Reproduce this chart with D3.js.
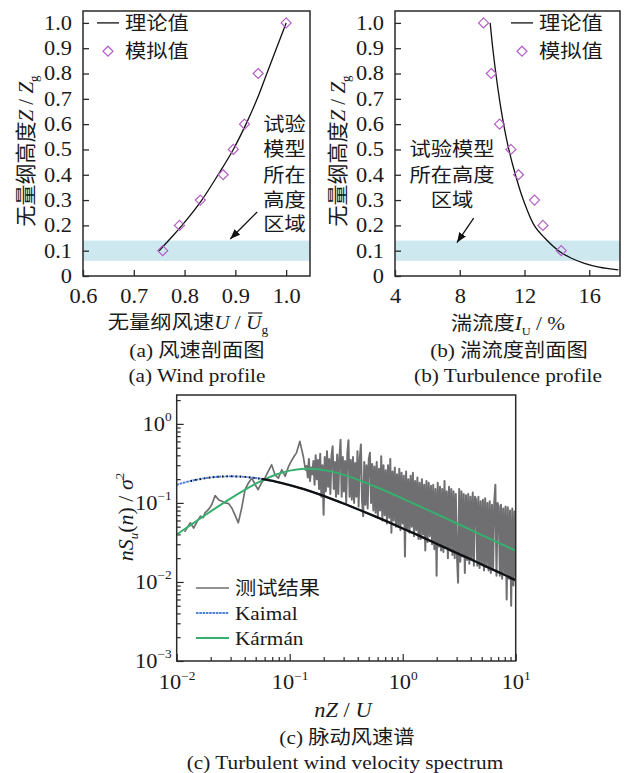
<!DOCTYPE html>
<html><head><meta charset="utf-8">
<script src="https://cdn.jsdelivr.net/npm/d3@7/dist/d3.min.js"></script>
<style>
html,body{margin:0;padding:0;background:#fff;}
svg text{font-family:"Liberation Serif","Noto Sans CJK SC",serif;fill:#1a1a1a;}
</style></head><body>
<svg id="chart" width="624" height="773" xmlns="http://www.w3.org/2000/svg"></svg>
<script>
// ================= DATA =================
const profileYTicks = [0,0.1,0.2,0.3,0.4,0.5,0.6,0.7,0.8,0.9,1.0];
const profileYLabels = ["0","0.1","0.2","0.3","0.4","0.5","0.6","0.7","0.8","0.9","1.0"];
const windXTicks = [0.6,0.7,0.8,0.9,1.0];
const windXLabels = ["0.6","0.7","0.8","0.9","1.0"];
const turbXTicks = [4,8,12,16];
const turbXLabels = ["4","8","12","16"];
const modelBand = [0.06,0.14];

// (a) wind profile
const windTheoryZ = [0.1,0.15,0.2,0.3,0.4,0.5,0.6,0.7,0.8,0.9,1.0];
const windTheoryU = [0.750,0.773,0.795,0.834,0.866,0.896,0.921,0.943,0.962,0.981,1.000];
const windSimZ = [0.1,0.2,0.3,0.4,0.5,0.6,0.8,1.0];
const windSimU = [0.757,0.790,0.831,0.876,0.896,0.918,0.945,1.000];

// (b) turbulence profile
const turbTheoryZ = [1.0,0.9,0.8,0.7,0.6,0.5,0.4,0.3,0.2,0.15,0.1,0.07,0.05,0.035,0.024];
const turbTheoryI = [9.88,10.04,10.23,10.45,10.71,11.03,11.44,11.93,12.60,13.25,14.1,14.9,15.7,16.6,17.8];
const turbSimZ = [0.1,0.2,0.3,0.4,0.5,0.6,0.8,1.0];
const turbSimI = [14.27,13.14,12.62,11.63,11.16,10.46,9.95,9.47];

// (c) spectrum
const specFreq = [0.01,0.01334,0.01778,0.02371,0.03162,0.04217,0.05623,0.07499,0.1,0.1334,0.1778,0.2371,0.3162,0.4217,0.5623,0.7499,1,1.334,1.778,2.371,3.162,4.217,5.623,7.499,10];
const kaimalVals = [0.1695,0.1898,0.2052,0.2147,0.2168,0.2123,0.2013,0.1863,0.1681,0.1491,0.1300,0.1120,0.0955,0.0808,0.0680,0.0570,0.0475,0.0396,0.0328,0.0272,0.0225,0.0187,0.0154,0.0128,0.0105];
const karmanVals = [0.0398,0.0528,0.0698,0.0918,0.1195,0.1528,0.1901,0.2269,0.2561,0.2704,0.2671,0.2489,0.2217,0.1918,0.1626,0.1364,0.1136,0.0942,0.0780,0.0645,0.0533,0.0440,0.0363,0.0300,0.0248];

// measured spectrum, low-frequency part (frequency, value)
const measLowFreq = [0.01175,0.01318,0.01413,0.01514,0.01622,0.01718,0.01778,0.01905,0.02042,0.02188,0.02344,0.02512,0.02692,0.02884,0.03090,0.03311,0.03508,0.03758,0.04027,0.04315,0.04624,0.04955,0.05248,0.05623,0.06026,0.06457,0.06918,0.07413,0.07943,0.08511,0.09120,0.09772,0.1047,0.1096,0.1148,0.1230,0.1318,0.1380];
const measLowVals = [0.043,0.056,0.048,0.058,0.068,0.065,0.075,0.082,0.095,0.124,0.110,0.105,0.100,0.098,0.085,0.068,0.056,0.086,0.147,0.179,0.206,0.170,0.147,0.179,0.206,0.250,0.304,0.227,0.206,0.263,0.217,0.290,0.350,0.390,0.430,0.600,0.390,0.260];
// measured spectrum, dense part: samples every 0.01 decade from 10^-0.85
const denseStartExp = -0.85, denseStepExp = 0.01;
const measDenseVals = [
0.30,0.21,0.36,0.19,0.28,0.23,0.34,0.17,0.40,0.20,
0.35,0.15,0.42,0.12,0.30,0.071,0.38,0.14,0.45,0.16,
0.36,0.13,0.40,0.52,0.15,0.33,0.12,0.41,0.13,0.37,
0.63,0.12,0.38,0.14,0.34,0.10,0.42,0.62,0.12,0.35,
0.11,0.38,0.10,0.32,0.12,0.45,0.09,0.36,0.55,0.11,
0.068,0.33,0.095,0.30,0.085,0.36,0.43,0.10,0.31,0.08,
0.29,0.075,0.33,0.065,0.27,0.08,0.39,0.06,0.30,0.07,
0.26,0.055,0.30,0.065,0.36,0.042,0.25,0.06,0.28,0.05,
0.23,0.05,0.27,0.045,0.24,0.055,0.22,0.021,0.25,0.045,
0.20,0.042,0.22,0.05,0.24,0.038,0.19,0.045,0.21,0.035,
0.18,0.035,0.20,0.04,0.17,0.025,0.19,0.032,0.18,0.038,
0.165,0.03,0.17,0.026,0.15,0.012,0.18,0.028,0.16,0.025,
0.15,0.024,0.19,0.027,0.14,0.02,0.16,0.025,0.15,0.022,
0.14,0.02,0.13,0.022,0.0098,0.15,0.018,0.14,0.021,0.13,
0.013,0.125,0.019,0.13,0.017,0.12,0.02,0.135,0.016,0.12,
0.11,0.016,0.12,0.015,0.105,0.017,0.11,0.014,0.115,0.016,
0.10,0.014,0.105,0.013,0.095,0.015,0.10,0.17,0.012,0.10,
0.09,0.012,0.095,0.011,0.085,0.013,0.09,0.006,0.088,0.011,
0.08,0.005,0.085,0.009,0.078,0.011];

const specMajorX = [0.01,0.1,1,10], specMajorXExp = ["\u22122","\u22121","0","1"];
const specMajorY = [0.001,0.01,0.1,1], specMajorYExp = ["\u22123","\u22122","\u22121","0"];

// ================= DRAW =================
const svg = d3.select("#chart");
const INK = "#1a1a1a", AX = "#2a2a2a", SIM = "#b35fc7", BAND = "#cde8ef";
const STRETCH = 1.12;
const defs = svg.append("defs");
defs.append("marker").attr("id","arrow").attr("viewBox","0 0 10 8").attr("refX",10).attr("refY",4)
  .attr("markerWidth",10).attr("markerHeight",8).attr("markerUnits","userSpaceOnUse").attr("orient","auto")
  .append("path").attr("d","M0,0L10,4L0,8Z").attr("fill","#111");

function rich(parent, x, y, parts, size, anchor, rot){
  const t = parent.append("text").attr("x",x).attr("y",y).attr("font-size",size)
    .attr("text-anchor",anchor||"middle");
  if(rot) t.classed("rot",true);
  parts.forEach(p=>{
    const s = t.append("tspan").text(p.t);
    if(p.i) s.attr("font-style","italic");
    if(p.fs) s.attr("font-size",p.fs);
    if(p.dy) s.attr("dy",p.dy);
  });
  return t;
}

const PY0 = 276, PY1 = 11;
function profilePanel(o){
  const g = svg.append("g");
  const x = d3.scaleLinear().domain(o.xDom).range([o.left,o.right]);
  const y = d3.scaleLinear().domain([0,1.047]).range([PY0,PY1]);
  g.append("rect").attr("x",o.left).attr("y",y(modelBand[1])).attr("width",o.right-o.left)
    .attr("height",y(modelBand[0])-y(modelBand[1])).attr("fill",BAND);
  const gx = g.append("g").attr("transform",`translate(0,${PY0})`)
    .call(d3.axisBottom(x).tickValues(o.xTicks).tickFormat((d,i)=>o.xLabels[i]).tickSizeInner(-6).tickSizeOuter(0).tickPadding(13));
  const gy = g.append("g").attr("transform",`translate(${o.left},0)`)
    .call(d3.axisLeft(y).tickValues(profileYTicks).tickFormat((d,i)=>profileYLabels[i]).tickSizeInner(-6).tickSizeOuter(0).tickPadding(11));
  [gx,gy].forEach(a=>{a.select(".domain").remove();
    a.selectAll("line").attr("stroke",AX).attr("stroke-width",1.3);
    a.selectAll("text").attr("font-size",20);});
  g.append("rect").attr("x",o.left).attr("y",PY1).attr("width",o.right-o.left).attr("height",PY0-PY1)
    .attr("fill","none").attr("stroke",AX).attr("stroke-width",1.5);
  g.append("path").datum(d3.zip(o.theoryX,o.theoryZ))
    .attr("d",d3.line().x(d=>x(d[0])).y(d=>y(d[1])).curve(d3.curveCatmullRom))
    .attr("fill","none").attr("stroke","#111").attr("stroke-width",1.3);
  g.selectAll(".sim").data(d3.zip(o.simX,o.simZ)).join("path").attr("class","sim")
    .attr("transform",d=>`translate(${x(d[0])},${y(d[1])})`).attr("d","M0,-5L5,0L0,5L-5,0Z")
    .attr("fill","none").attr("stroke",SIM).attr("stroke-width",1.2);
  // legend
  const ly1 = y(1.0), ly2 = y(0.9)+3;
  g.append("line").attr("x1",o.legX).attr("x2",o.legX+22).attr("y1",ly1).attr("y2",ly1).attr("stroke","#111").attr("stroke-width",1.3);
  g.append("path").attr("transform",`translate(${o.legX+11},${ly2})`).attr("d","M0,-5L5,0L0,5L-5,0Z")
    .attr("fill","none").attr("stroke",SIM).attr("stroke-width",1.2);
  rich(g,o.legX+28,ly1+7,[{t:"理论值"}],19,"start");
  rich(g,o.legX+28,ly2+7,[{t:"模拟值"}],19,"start");
  // annotation
  o.note.forEach((s,i)=>rich(g,x(o.noteX),y(o.noteZ[i])+7,[{t:s}],19,"middle"));
  g.append("line").attr("x1",x(o.arrow[0])).attr("y1",y(o.arrow[1])).attr("x2",x(o.arrow[2])).attr("y2",y(o.arrow[3]))
    .attr("stroke","#111").attr("stroke-width",1.3).attr("marker-end","url(#arrow)");
  return {g,x,y};
}

const pa = profilePanel({left:83,right:310,xDom:[0.6,1.047],xTicks:windXTicks,xLabels:windXLabels,
  theoryX:windTheoryU,theoryZ:windTheoryZ,simX:windSimU,simZ:windSimZ,legX:97,
  note:["试验","模型","所在","高度","区域"],noteX:0.997,noteZ:[0.6,0.5,0.4,0.3,0.205],
  arrow:[0.943,0.253,0.89,0.146]});
const pb = profilePanel({left:395,right:620,xDom:[4,17.9],xTicks:turbXTicks,xLabels:turbXLabels,
  theoryX:turbTheoryI,theoryZ:turbTheoryZ,simX:turbSimI,simZ:turbSimZ,legX:511,
  note:["试验模型","所在高度","区域"],noteX:7.52,noteZ:[0.5,0.4,0.3],
  arrow:[8.86,0.229,7.83,0.132]});

// y labels for (a),(b)
[25,337].forEach(xx=>{
  const g = svg.append("g").attr("transform",`translate(${xx},151) rotate(-90)`);
  rich(g,0,7.5,[{t:"无量纲高度"},{t:"Z",i:1},{t:" / "},{t:"Z",i:1},{t:"g",fs:13,dy:5}],21,"middle",true);
});
// x labels
const xla = rich(svg,188,329,[{t:"无量纲风速"},{t:"U",i:1},{t:" / "},{t:"U",i:1},{t:"g",fs:12,dy:5}],19,"middle");
rich(svg,508,330,[{t:"湍流度"},{t:"I",i:1},{t:"U",fs:11,dy:5},{t:" / %",dy:-5}],19,"middle");
rich(svg,197,357,[{t:"(a) 风速剖面图"}],19,"middle");
rich(svg,197,382,[{t:"(a) Wind profile"}],19,"middle");
rich(svg,509,357,[{t:"(b) 湍流度剖面图"}],19,"middle");
rich(svg,508,382,[{t:"(b) Turbulence profile"}],19,"middle");

// ---------- (c) spectrum ----------
const CL=176.7, CR=515.7, CT=395, CB=661;
const sx = d3.scaleLog().domain([0.01,10]).range([CL,CR]);
const sy = d3.scaleLog().domain([0.001,2.32]).range([CB,CT]);
const gc = svg.append("g");
const clip = defs.append("clipPath").attr("id","clipc");
clip.append("rect").attr("x",CL).attr("y",CT).attr("width",CR-CL).attr("height",CB-CT);

const isMajor = v => Math.abs(Math.log10(v)-Math.round(Math.log10(v)))<1e-6;
const gxm = gc.append("g").attr("transform",`translate(0,${CB})`)
  .call(d3.axisBottom(sx).tickValues(sx.ticks().filter(v=>!isMajor(v))).tickFormat("").tickSizeInner(-4).tickSizeOuter(0));
const gym = gc.append("g").attr("transform",`translate(${CL},0)`)
  .call(d3.axisLeft(sy).tickValues(sy.ticks().filter(v=>!isMajor(v))).tickFormat("").tickSizeInner(-4).tickSizeOuter(0));
const gxM = gc.append("g").attr("transform",`translate(0,${CB})`)
  .call(d3.axisBottom(sx).tickValues(specMajorX).tickFormat("").tickSizeInner(-7).tickSizeOuter(0).tickPadding(14));
const gyM = gc.append("g").attr("transform",`translate(${CL},0)`)
  .call(d3.axisLeft(sy).tickValues(specMajorY).tickFormat("").tickSizeInner(-7).tickSizeOuter(0).tickPadding(5));
[gxm,gym,gxM,gyM].forEach(a=>{a.select(".domain").remove(); a.selectAll("line").attr("stroke",AX).attr("stroke-width",1.2);});
function powLabels(ax, exps){
  ax.selectAll(".tick text").each(function(d,i){
    const t = d3.select(this).attr("font-size",20).text(null);
    t.append("tspan").text("10");
    t.append("tspan").attr("font-size",12).attr("dy","-0.8em").text(exps[i]);
  });
}
powLabels(gxM, specMajorXExp);
powLabels(gyM, specMajorYExp);

const lineS = d3.line().x(d=>sx(d[0])).y(d=>sy(d[1]));
const plot = gc.append("g").attr("clip-path","url(#clipc)");
// measured
const measLow = d3.zip(measLowFreq, measLowVals);
const measDense = measDenseVals.map((v,i)=>[Math.pow(10, denseStartExp+i*denseStepExp), v]);
plot.append("path").datum(measLow.concat([measDense[0]])).attr("d",lineS).attr("fill","none")
  .attr("stroke","#6f6f71").attr("stroke-width",1.7).attr("stroke-linejoin","round");
plot.append("path").datum(measDense).attr("d",lineS).attr("fill","none")
  .attr("stroke","#6f6f71").attr("stroke-width",2.0).attr("stroke-linejoin","round");
// Kármán
const lineC = d3.line().x(d=>sx(d[0])).y(d=>sy(d[1])).curve(d3.curveCatmullRom);
plot.append("path").datum(d3.zip(specFreq,karmanVals)).attr("d",lineC).attr("fill","none")
  .attr("stroke","#35b06e").attr("stroke-width",2);
// Kaimal
const kai = d3.zip(specFreq,kaimalVals);
plot.append("path").datum(kai).attr("d",lineC).attr("fill","none")
  .attr("stroke","#4a7fdc").attr("stroke-width",1.9).attr("stroke-dasharray","2.5,0.8");
plot.append("path").datum(kai.filter(d=>d[0]>=0.0133 && d[0]<=0.06)).attr("d",lineC).attr("fill","none")
  .attr("stroke","#111").attr("stroke-width",2).attr("stroke-dasharray","1.3,3.2");
plot.append("path").datum(kai.filter(d=>d[0]>=0.05)).attr("d",lineC).attr("fill","none")
  .attr("stroke","#111").attr("stroke-width",2.4);
// frame
gc.append("rect").attr("x",CL).attr("y",CT).attr("width",CR-CL).attr("height",CB-CT)
  .attr("fill","none").attr("stroke",AX).attr("stroke-width",1.5);
// legend
const legC = [{t:"测试结果",c:"#6f6f71",dash:null,w:1.6},{t:"Kaimal",c:"#4a7fdc",dash:"2.5,0.8",w:1.8},{t:"Kármán",c:"#35b06e",dash:null,w:1.8}];
legC.forEach((d,i)=>{
  const yy = 588+25*i;
  gc.append("line").attr("x1",196).attr("x2",229).attr("y1",yy).attr("y2",yy).attr("stroke",d.c)
    .attr("stroke-width",d.w).attr("stroke-dasharray",d.dash);
  rich(gc,235,yy+7,[{t:d.t}],19,"start");
});
// axis titles
{ const g = svg.append("g").attr("transform",`translate(125,517) rotate(-90)`);
  rich(g,0,7.5,[{t:"nS",i:1},{t:"u",i:1,fs:13,dy:5},{t:"(",dy:-5},{t:"n",i:1},{t:") / "},{t:"σ",i:1},{t:"2",fs:13,dy:-9}],22,"middle",true); }
rich(svg,343,717,[{t:"nZ",i:1},{t:" / "},{t:"U",i:1}],20,"middle");
rich(svg,347,744,[{t:"(c) 脉动风速谱"}],19,"middle");
rich(svg,345,769,[{t:"(c) Turbulent wind velocity spectrum"}],19,"middle");

// horizontal stretch of the (horizontal) lettering, as in the reference figure
svg.selectAll("text").filter(function(){return !this.classList.contains("rot");}).each(function(){
  const x0 = +(this.getAttribute("x")||0);
  this.setAttribute("transform",`matrix(${STRETCH},0,0,1,${x0*(1-STRETCH)},0)`);
});
// overline on the second U of the (a) x label
{ const n = xla.node(); const s = n.getStartPositionOfChar(9), e = n.getEndPositionOfChar(9);
  const X = v => STRETCH*v + 188*(1-STRETCH);
  svg.append("line").attr("x1",X(s.x)+2).attr("x2",X(e.x)+1).attr("y1",329-16).attr("y2",329-16)
    .attr("stroke",INK).attr("stroke-width",1.2); }
</script></body></html>
